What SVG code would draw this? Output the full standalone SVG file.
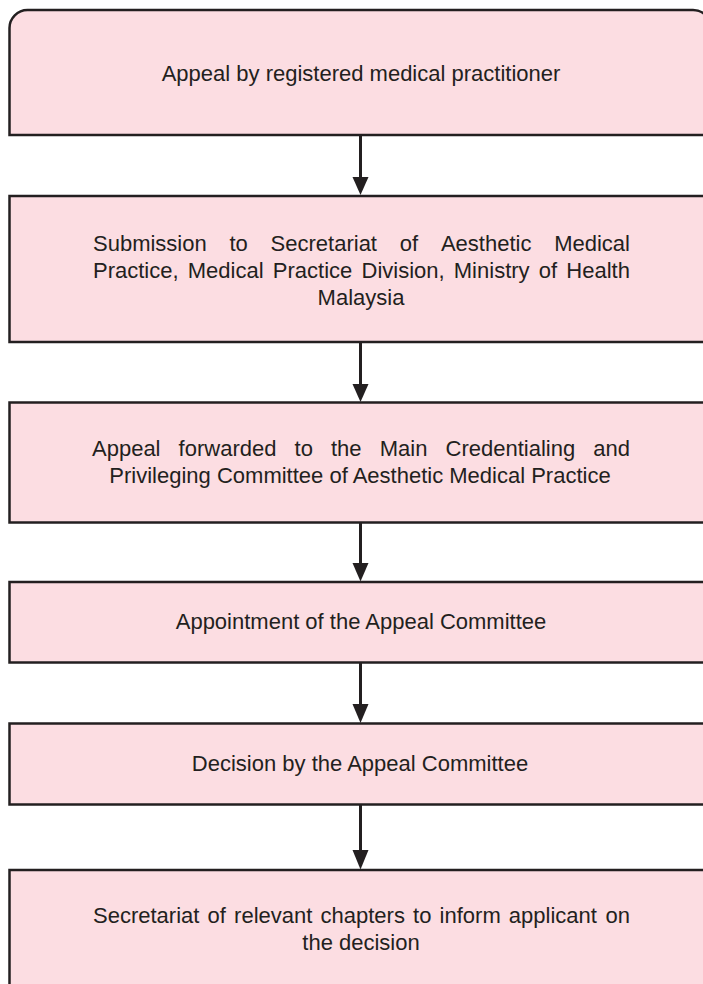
<svg xmlns="http://www.w3.org/2000/svg" width="703" height="984" viewBox="0 0 703 984">
<style>
.box{fill:#fcdde2;stroke:#231f20;stroke-width:2.5}
.t{font-family:"Liberation Sans",Arial,sans-serif;font-size:22px;fill:#231f20}
.c{text-anchor:middle}
.conn line{stroke:#231f20;stroke-width:3}
.conn path{fill:#231f20}
</style>
<rect width="703" height="984" fill="#ffffff"/>
<g id="n1">
<path class="box" d="M9.5,135 L9.5,28 A18,18 0 0 1 27.5,10 L693,10 A18,18 0 0 1 711,28 L711,135 Z"/>
<text class="t c" x="361" y="81">Appeal by registered medical practitioner</text>
</g>
<g id="n2">
<rect class="box" x="9.5" y="196" width="702" height="146"/>
<text class="t"><tspan x="93" y="251">Submission</tspan><tspan x="229.5" y="251">to</tspan><tspan x="270.6" y="251">Secretariat</tspan><tspan x="399.8" y="251">of</tspan><tspan x="440.9" y="251">Aesthetic</tspan><tspan x="554.2" y="251">Medical</tspan></text>
<text class="t"><tspan x="93" y="278">Practice,</tspan><tspan x="187.8" y="278">Medical</tspan><tspan x="272.8" y="278">Practice</tspan><tspan x="361.5" y="278">Division,</tspan><tspan x="453.8" y="278">Ministry</tspan><tspan x="538.8" y="278">of</tspan><tspan x="566.3" y="278">Health</tspan></text>
<text class="t c" x="361" y="305">Malaysia</text>
</g>
<g id="n3">
<rect class="box" x="9.5" y="402.5" width="702" height="120"/>
<text class="t"><tspan x="92" y="456">Appeal</tspan><tspan x="178.6" y="456">forwarded</tspan><tspan x="294.6" y="456">to</tspan><tspan x="331" y="456">the</tspan><tspan x="379.7" y="456">Main</tspan><tspan x="445.5" y="456">Credentialing</tspan><tspan x="593.3" y="456">and</tspan></text>
<text class="t c" x="360" y="483">Privileging Committee of Aesthetic Medical Practice</text>
</g>
<g id="n4">
<rect class="box" x="9.5" y="582" width="702" height="80.5"/>
<text class="t c" x="361" y="629">Appointment of the Appeal Committee</text>
</g>
<g id="n5">
<rect class="box" x="9.5" y="723.5" width="702" height="81"/>
<text class="t c" x="360" y="771">Decision by the Appeal Committee</text>
</g>
<g id="n6">
<rect class="box" x="9.5" y="870" width="702" height="130"/>
<text class="t"><tspan x="93" y="923">Secretariat</tspan><tspan x="207.6" y="923">of</tspan><tspan x="234.1" y="923">relevant</tspan><tspan x="320.5" y="923">chapters</tspan><tspan x="413.1" y="923">to</tspan><tspan x="439.6" y="923">inform</tspan><tspan x="508.8" y="923">applicant</tspan><tspan x="605.5" y="923">on</tspan></text>
<text class="t c" x="361" y="950">the decision</text>
</g>
<g class="conn" id="connectors">
<line x1="360.5" y1="136" x2="360.5" y2="178"/>
<path d="M352.5,177 L368.5,177 L360.5,195 Z"/>
<line x1="360.5" y1="343" x2="360.5" y2="385"/>
<path d="M352.5,384 L368.5,384 L360.5,402 Z"/>
<line x1="360.5" y1="523" x2="360.5" y2="564"/>
<path d="M352.5,563 L368.5,563 L360.5,581.5 Z"/>
<line x1="360.5" y1="663" x2="360.5" y2="705"/>
<path d="M352.5,704 L368.5,704 L360.5,723 Z"/>
<line x1="360.5" y1="805" x2="360.5" y2="851"/>
<path d="M352.5,850 L368.5,850 L360.5,869.5 Z"/>
</g>
</svg>
